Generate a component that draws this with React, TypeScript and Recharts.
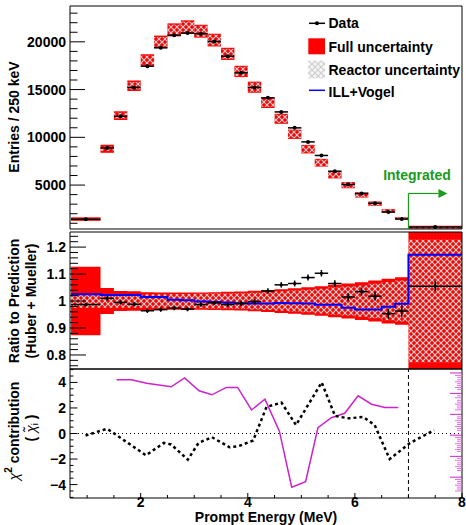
import React from 'react';
import {
  ComposedChart, XAxis, YAxis, Scatter, ErrorBar, Line, Area,
  ReferenceArea, ReferenceLine, ReferenceDot, Legend,
} from 'recharts';

const FONT = "'Liberation Sans', Arial, Helvetica, sans-serif";
const RED = '#ff0000';
const BLUE = '#0000ff';
const GREEN = '#1a9a1a';
const MAGENTA = '#cc22cc';
const HATCH = 'url(#reactorHatch)';

// ---------- data ----------
const binLow = [0.7, 1.25, 1.5, 1.75, 2.0, 2.25, 2.5, 2.75, 3.0, 3.25, 3.5, 3.75, 4.0, 4.25, 4.5, 4.75, 5.0, 5.25, 5.5, 5.75, 6.0, 6.25, 6.5, 6.75, 7.0];
const binHigh = [1.25, 1.5, 1.75, 2.0, 2.25, 2.5, 2.75, 3.0, 3.25, 3.5, 3.75, 4.0, 4.25, 4.5, 4.75, 5.0, 5.25, 5.5, 5.75, 6.0, 6.25, 6.5, 6.75, 7.0, 8.0];
const counts = [1420, 8890, 12210, 15220, 17450, 19370, 20700, 20910, 20840, 20040, 18500, 16750, 15220, 14130, 12660, 10990, 9520, 8100, 6450, 5060, 4110, 3100, 2180, 1450, 610];
const predicted = [1440, 8800, 12270, 15400, 18100, 20010, 21250, 21560, 21110, 20180, 18740, 16900, 15250, 13630, 11940, 10320, 8760, 7340, 6060, 4990, 3970, 3050, 2290, 1510, 580];
const fullUnc = [0.127, 0.048, 0.037, 0.036, 0.033, 0.032, 0.032, 0.032, 0.032, 0.033, 0.034, 0.035, 0.038, 0.041, 0.044, 0.047, 0.051, 0.055, 0.060, 0.065, 0.070, 0.076, 0.083, 0.088, 0.27];
const reactorUnc = [0.025, 0.025, 0.025, 0.025, 0.025, 0.025, 0.026, 0.026, 0.027, 0.028, 0.028, 0.029, 0.031, 0.033, 0.036, 0.039, 0.042, 0.046, 0.050, 0.054, 0.058, 0.064, 0.071, 0.076, 0.227];
const ratio = [0.987, 1.010, 0.995, 0.988, 0.964, 0.968, 0.974, 0.970, 0.987, 0.993, 0.987, 0.991, 0.998, 1.037, 1.060, 1.065, 1.087, 1.103, 1.065, 1.015, 1.035, 1.018, 0.953, 0.963, 1.055];
const ratioErr = [0.007, 0.009, 0.008, 0.008, 0.008, 0.008, 0.008, 0.008, 0.008, 0.008, 0.008, 0.009, 0.009, 0.010, 0.010, 0.011, 0.011, 0.012, 0.012, 0.014, 0.015, 0.016, 0.019, 0.021, 0.018];
const illVogel = [1.025, 1.022, 1.022, 1.022, 1.015, 1.015, 1.005, 1.003, 0.998, 0.996, 0.995, 0.992, 0.991, 0.991, 0.993, 0.992, 0.991, 0.986, 0.986, 0.975, 0.969, 0.969, 0.979, 0.990, 1.172];

const chiMagX = [1.55, 1.83, 2.11, 2.57, 2.82, 3.09, 3.33, 3.6, 3.81, 4.07, 4.32, 4.59, 4.82, 5.08, 5.31, 5.56, 5.81, 6.06, 6.31, 6.56, 6.81];
const chiMagY = [4.21, 4.21, 3.93, 3.66, 4.35, 3.35, 3.03, 3.61, 3.61, 1.84, 2.69, 0.18, -4.21, -3.77, 0.45, 1.24, 1.58, 2.95, 2.29, 2.03, 2.03];
const chiDotX = [0.97, 1.37, 1.47, 2.10, 2.43, 2.57, 2.88, 3.08, 3.33, 3.66, 3.82, 4.10, 4.35, 4.63, 4.90, 5.38, 5.63, 5.88, 6.16, 6.37, 6.65, 7.03, 7.48];
const chiDotY = [-0.16, 0.37, 0.10, -1.71, -0.74, -0.86, -2.05, -0.74, -0.29, -1.08, -1.0, -0.55, 2.08, 2.42, 0.66, 4.0, 1.37, 1.19, 1.29, 0.66, -2.0, -0.74, 0.26];
const rugLong = [4.74, 3.14, 1.50, -0.13, -1.79, -3.42];
const rugShort = [4.55, 4.4, 4.2, 4.05, 3.9, 3.75, 3.6, 3.45, 2.95, 2.8, 2.6, 2.45, 2.3, 2.15, 2.0, 1.85, 1.3, 1.15, 1.0, 0.85, 0.7, 0.55, 0.4, 0.25, -0.3, -0.45, -0.6, -0.8, -0.95, -1.1, -1.25, -1.4, -1.95, -2.1, -2.3, -2.45, -2.6, -2.75, -2.9, -3.6, -3.75, -3.9, -4.05, -4.2, -4.35, -4.5];

const topMajor = [5000, 10000, 15000, 20000];
const ratioMajor = [0.8, 0.9, 1.0, 1.1, 1.2];
const ratioLabels = ['0.8', '0.9', '1', '1.1', '1.2'];
const chiMajor = [-4, -2, 0, 2, 4];
const chiLabels = ['\u22124', '\u22122', '0', '2', '4'];
const xMajor = [2, 4, 6, 8];
const xLabels = ['2', '4', '6', '8'];

// ---------- helpers ----------
function range(a: number, b: number, s: number) {
  const out: number[] = [];
  for (let v = a; v <= b + 1e-9; v += s) out.push(Math.round(v * 1000) / 1000);
  return out;
}
const X_DOMAIN: [number, number] = [0.68, 8];
const TOP_DOMAIN: [number, number] = [400, 23750];
const RATIO_DOMAIN: [number, number] = [0.748, 1.256];
const CHI_DOMAIN: [number, number] = [-5.05, 5.05];

const xTicks = range(1, 8, 0.5);
const topTicks = range(1000, 23000, 1000);
const ratioTicks = range(0.76, 1.24, 0.02);
const chiTicks = range(-5, 5, 0.5);

const bins = binLow.map((lo, i) => ({
  lo, hi: binHigh[i], x: (lo + binHigh[i]) / 2, xe: (binHigh[i] - lo) / 2,
  count: counts[i], pred: predicted[i], full: fullUnc[i], reac: reactorUnc[i],
  ratio: ratio[i], re: ratioErr[i], ill: illVogel[i],
}));
const topPoints = bins.map(b => ({ x: b.x, y: b.count, xe: b.xe }));
const ratioPoints = bins.map(b => ({ x: b.x, y: b.ratio, xe: b.xe, ye: b.re }));
const lastBin = bins[bins.length - 1];
const stepRows = [
  ...bins.map(b => ({ x: b.lo, full: [1 - b.full, 1 + b.full], reac: [1 - b.reac, 1 + b.reac], ill: b.ill })),
  { x: lastBin.hi, full: [1 - lastBin.full, 1 + lastBin.full], reac: [1 - lastBin.reac, 1 + lastBin.reac], ill: lastBin.ill },
];
const chiMag = chiMagX.map((x, i) => ({ x, y: chiMagY[i] }));
const chiDot = chiDotX.map((x, i) => ({ x, y: chiDotY[i] }));
const rug = [...rugLong.map(y => ({ x: 8, y, len: 12, c: MAGENTA })), ...rugShort.map((y, i) => ({ x: 8, y, len: i % 3 === 0 ? 7 : 5, c: '#e070e0' }))];

const near = (a: number, b: number) => Math.abs(a - b) < 1e-6;

function makeYTick(majors: number[], labels: string[], majLen: number, minLen: number) {
  return (props: any) => {
    const { x, y, payload } = props;
    const idx = majors.findIndex(m => near(m, payload.value));
    const major = idx >= 0;
    return (
      <g>
        <line x1={x} x2={x + (major ? majLen : minLen)} y1={y} y2={y} stroke="#000" strokeWidth={1} />
        {major && (
          <text x={x - 4} y={y} dy="0.36em" textAnchor="end" fontFamily={FONT} fontWeight={700} fontSize={14} fill="#000">
            {labels[idx]}
          </text>
        )}
      </g>
    );
  };
}

function makeXTick(showLabels: boolean) {
  return (props: any) => {
    const { x, y, payload } = props;
    const idx = xMajor.findIndex(m => near(m, payload.value));
    const major = idx >= 0;
    return (
      <g>
        <line x1={x} x2={x} y1={y} y2={y - (major ? 5 : 3)} stroke="#000" strokeWidth={1} />
        {showLabels && major && (
          <text x={x} y={y + 9} textAnchor="middle" fontFamily={FONT} fontWeight={700} fontSize={14} fill="#000">
            {xLabels[idx]}
          </text>
        )}
      </g>
    );
  };
}

const DataDot = (p: any) => <circle cx={p.cx} cy={p.cy} r={2} fill="#000" />;
const SmallDot = (p: any) => <circle cx={p.cx} cy={p.cy} r={1.6} fill="#000" />;
const RugLine = (p: any) => (
  <line x1={p.cx - p.payload.len} x2={p.cx} y1={p.cy} y2={p.cy} stroke={p.payload.c} strokeWidth={1} />
);
const ArrowHead = (p: any) => (
  <polygon points={`${p.cx},${p.cy - 4.5} ${p.cx + 9},${p.cy} ${p.cx},${p.cy + 4.5}`} fill={GREEN} />
);
const IntegratedText = (p: any) => (
  <text x={p.cx} y={p.cy} textAnchor="middle" dy="0.36em" fontFamily={FONT} fontWeight={700} fontSize={14} fill={GREEN}>
    Integrated
  </text>
);

const txt = { fontFamily: FONT, fontWeight: 700, fontSize: 14, fill: '#000' } as const;

const LegendBox = () => (
  <svg width={166} height={92} style={{ display: 'block' }}>
    <line x1={9} x2={25} y1={13.3} y2={13.3} stroke="#000" strokeWidth={1.5} />
    <circle cx={17} cy={13.3} r={2} fill="#000" />
    <text x={28.5} y={18} {...txt}>Data</text>
    <rect x={8.3} y={28.3} width={16.7} height={16} fill={RED} />
    <text x={28.5} y={41.7} {...txt}>Full uncertainty</text>
    <rect x={8.3} y={50.7} width={16.7} height={17.6} fill="#f4f4f4" />
    <rect x={8.3} y={50.7} width={16.7} height={17.6} fill={HATCH} />
    <text x={28.5} y={65} {...txt}>Reactor uncertainty</text>
    <line x1={9} x2={25} y1={80.3} y2={80.3} stroke={BLUE} strokeWidth={1.5} />
    <text x={28.5} y={86.7} {...txt}>ILL+Vogel</text>
  </svg>
);

export default function App() {
  return (
    <div style={{ position: 'absolute', left: 0, top: 0, width: 466, height: 525, background: '#fff' }}>
      <svg width={0} height={0} style={{ position: 'absolute' }}>
        <defs>
          <pattern id="reactorHatch" width={6} height={6} patternUnits="userSpaceOnUse">
            <path d="M0,0 L6,6 M6,0 L0,6" stroke="#cfcfcf" strokeWidth={1.2} />
          </pattern>
        </defs>
      </svg>

      {/* ---------- top panel ---------- */}
      <div style={{ position: 'absolute', left: 0, top: 0 }}>
        <ComposedChart width={466} height={240} margin={{ top: 6, right: 4, bottom: 11, left: 0 }}>
          <XAxis type="number" dataKey="x" domain={X_DOMAIN} allowDataOverflow ticks={xTicks} interval={0}
            tickSize={0} tickMargin={0} height={0} axisLine={false} tickLine={false} tick={makeXTick(false)} />
          <YAxis type="number" domain={TOP_DOMAIN} allowDataOverflow ticks={topTicks} interval={0} width={70}
            tickSize={0} tickMargin={0} axisLine={false} tickLine={false}
            tick={makeYTick(topMajor, topMajor.map(String), 15, 7.5)}
            label={{
              content: () => (
                <text x={14} y={117} transform="rotate(-90, 14, 117)" textAnchor="middle" dominantBaseline="central" {...txt}>
                  Entries / 250 keV
                </text>
              ),
            }} />
          {bins.map((b, i) => (
            <ReferenceArea key={'f' + i} x1={b.lo} x2={b.hi} y1={b.pred * (1 - b.full)} y2={b.pred * (1 + b.full)}
              fill={RED} fillOpacity={1} stroke="none" ifOverflow="hidden" />
          ))}
          {bins.map((b, i) => (
            <ReferenceArea key={'r' + i} x1={b.lo} x2={b.hi} y1={b.pred * (1 - b.reac)} y2={b.pred * (1 + b.reac)}
              fill={HATCH} fillOpacity={1} stroke="none" ifOverflow="hidden" />
          ))}
          <Scatter data={topPoints} dataKey="y" shape={DataDot} isAnimationActive={false}>
            <ErrorBar dataKey="xe" direction="x" width={0} stroke="#000" strokeWidth={1.5} />
          </Scatter>
          <ReferenceLine segment={[{ x: 7, y: 400 }, { x: 7, y: 4120 }]} stroke={GREEN} strokeWidth={1.2} />
          <ReferenceLine segment={[{ x: 7, y: 4120 }, { x: 7.56, y: 4120 }]} stroke={GREEN} strokeWidth={1.2} />
          <ReferenceDot x={7.56} y={4120} shape={ArrowHead} />
          <ReferenceDot x={7.16} y={6100} shape={IntegratedText} />
          <ReferenceArea x1={X_DOMAIN[0]} x2={X_DOMAIN[1]} y1={TOP_DOMAIN[0]} y2={TOP_DOMAIN[1]} fill="none" stroke="#000" strokeWidth={1} />
          <Legend layout="vertical" align="center" verticalAlign="middle" content={() => <LegendBox />}
            wrapperStyle={{ position: 'absolute', left: 300, top: 10, width: 166, height: 92 }} />
        </ComposedChart>
      </div>

      {/* ---------- ratio panel ---------- */}
      <div style={{ position: 'absolute', left: 0, top: 220 }}>
        <ComposedChart width={466} height={160} margin={{ top: 12, right: 4, bottom: 11, left: 0 }}>
          <XAxis type="number" dataKey="x" domain={X_DOMAIN} allowDataOverflow ticks={xTicks} interval={0}
            tickSize={0} tickMargin={0} height={0} axisLine={false} tickLine={false} tick={makeXTick(false)} />
          <YAxis type="number" domain={RATIO_DOMAIN} allowDataOverflow ticks={ratioTicks} interval={0} width={70}
            tickSize={0} tickMargin={0} axisLine={false} tickLine={false}
            tick={makeYTick(ratioMajor, ratioLabels, 16, 8)}
            label={{
              content: () => (
                <g>
                  <text x={14} y={81} transform="rotate(-90, 14, 81)" textAnchor="middle" dominantBaseline="central" {...txt}>
                    Ratio to Prediction
                  </text>
                  <text x={31} y={81} transform="rotate(-90, 31, 81)" textAnchor="middle" dominantBaseline="central" {...txt}>
                    (Huber + Mueller)
                  </text>
                </g>
              ),
            }} />
          <Area data={stepRows} dataKey="full" type="stepAfter" fill={RED} fillOpacity={1} stroke="none" isAnimationActive={false} />
          <Area data={stepRows} dataKey="reac" type="stepAfter" fill={HATCH} fillOpacity={1} stroke="none" isAnimationActive={false} />
          <Line data={stepRows} dataKey="ill" type="stepAfter" stroke={BLUE} strokeWidth={2} dot={false} isAnimationActive={false} />
          <Scatter data={ratioPoints} dataKey="y" shape={SmallDot} isAnimationActive={false}>
            <ErrorBar dataKey="xe" direction="x" width={0} stroke="#000" strokeWidth={1.5} />
            <ErrorBar dataKey="ye" direction="y" width={0} stroke="#000" strokeWidth={1.5} />
          </Scatter>
          <ReferenceArea x1={X_DOMAIN[0]} x2={X_DOMAIN[1]} y1={RATIO_DOMAIN[0]} y2={RATIO_DOMAIN[1]} fill="none" stroke="#000" strokeWidth={1} />
        </ComposedChart>
      </div>

      {/* ---------- chi2 panel ---------- */}
      <div style={{ position: 'absolute', left: 0, top: 360 }}>
        <ComposedChart width={466} height={165} margin={{ top: 9, right: 4, bottom: 0, left: 0 }}>
          <XAxis type="number" dataKey="x" domain={X_DOMAIN} allowDataOverflow ticks={xTicks} interval={0}
            tickSize={0} tickMargin={0} height={27} axisLine={false} tickLine={false} tick={makeXTick(true)}
            label={{
              content: () => (
                <text x={266} y={162} textAnchor="middle" {...txt}>Prompt Energy (MeV)</text>
              ),
            }} />
          <YAxis type="number" domain={CHI_DOMAIN} allowDataOverflow ticks={chiTicks} interval={0} width={70}
            tickSize={0} tickMargin={0} axisLine={false} tickLine={false}
            tick={makeYTick(chiMajor, chiLabels, 7.5, 3.5)}
            label={{
              content: () => (
                <g>
                  <text x={14} y={71} transform="rotate(-90, 14, 71)" textAnchor="middle" dominantBaseline="central" {...txt}>
                    <tspan fontStyle="italic" fontWeight={400}>χ</tspan>
                    <tspan fontSize={10} dy={-6}>2</tspan>
                    <tspan dy={6}> contribution</tspan>
                  </text>
                  <text x={31} y={68} transform="rotate(-90, 31, 68)" textAnchor="middle" dominantBaseline="central" {...txt}>
                    <tspan>( </tspan>
                    <tspan fontStyle="italic" fontWeight={400}>χ̃</tspan>
                    <tspan fontSize={9} fontWeight={400} dy={4}>i</tspan>
                    <tspan dy={-4}> )</tspan>
                  </text>
                </g>
              ),
            }} />
          <ReferenceLine y={0} stroke="#000" strokeDasharray="1 3" strokeWidth={1} />
          <ReferenceLine x={7} stroke="#000" strokeDasharray="4 3" strokeWidth={1} />
          <Scatter data={rug} dataKey="y" shape={RugLine} isAnimationActive={false} />
          <Line data={chiMag} dataKey="y" type="linear" stroke={MAGENTA} strokeWidth={1.5} dot={false} isAnimationActive={false} />
          <Line data={chiDot} dataKey="y" type="linear" stroke="#000" strokeWidth={2.5} strokeDasharray="3 3" dot={false} isAnimationActive={false} />
          <ReferenceArea x1={X_DOMAIN[0]} x2={X_DOMAIN[1]} y1={CHI_DOMAIN[0]} y2={CHI_DOMAIN[1]} fill="none" stroke="#000" strokeWidth={1} />
        </ComposedChart>
      </div>
    </div>
  );
}
